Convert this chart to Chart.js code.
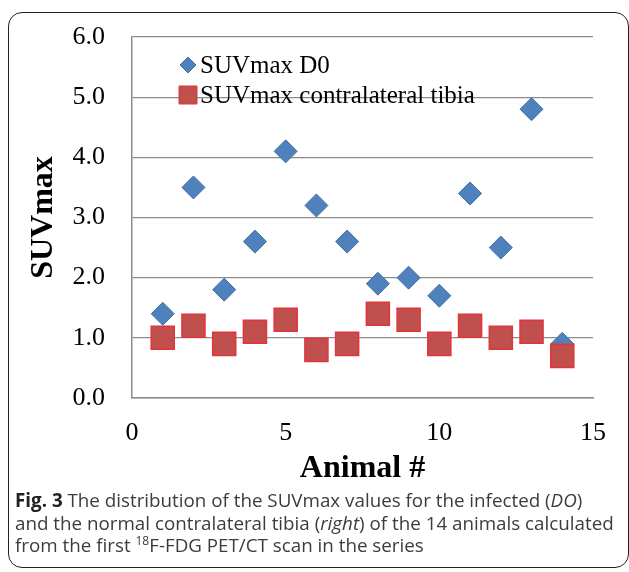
<!DOCTYPE html>
<html>
<head>
<meta charset="utf-8">
<script src="https://cdn.jsdelivr.net/npm/chart.js@4.4.1/dist/chart.umd.min.js"></script>
<style>
  html, body { margin: 0; padding: 0; background: #fff; }
  body { width: 629px; height: 572px; position: relative; overflow: hidden; }
  #frame {
    position: absolute; left: 8px; top: 12px; width: 621px; height: 556px;
    border: 1.5px solid #222; border-radius: 14px; box-sizing: border-box;
  }
  #chartBox { position: absolute; left: 0; top: 0; width: 629px; height: 490px; }
  #caption {
    position: absolute; left: 15px; top: 489px; margin: 0;
    font-family: "Open Sans", sans-serif; font-size: 18.8px; line-height: 22.5px;
    color: #3c3c3c; white-space: nowrap;
  }
  #caption b { color: #222; }
  #caption sup { font-size: 12px; line-height: 0; }
</style>
</head>
<body>
<div id="frame"></div>
<div id="chartBox"><canvas id="currentChart"></canvas></div>
<p id="caption"><b>Fig. 3</b> The distribution of the SUVmax values for the infected (<i>DO</i>)<br>and the normal contralateral tibia (<i>right</i>) of the 14 animals calculated<br>from the first <sup>18</sup>F-FDG PET/CT scan in the series</p>

<script>
const animals = [1, 2, 3, 4, 5, 6, 7, 8, 9, 10, 11, 12, 13, 14];
const suvD0 = [1.4, 3.5, 1.8, 2.6, 4.1, 3.2, 2.6, 1.9, 2.0, 1.7, 3.4, 2.5, 4.8, 0.9];
const suvTibia = [1.0, 1.2, 0.9, 1.1, 1.3, 0.8, 0.9, 1.4, 1.3, 0.9, 1.2, 1.0, 1.1, 0.7];
const seriesLabels = ['SUVmax D0', 'SUVmax contralateral tibia'];
const yTicks = [0, 1, 2, 3, 4, 5, 6];
const xTicks = [0, 5, 10, 15];

const serif = '"Liberation Serif", "DejaVu Serif", serif';

document.addEventListener('DOMContentLoaded', () => {
    initChart();
});

function initChart() {
    const chart = document.getElementById('currentChart')?.getContext('2d');
    if (!chart) return;

    new Chart(chart, {
        type: 'scatter',
        data: getChartData(),
        options: getChartOptions(),
        plugins: [insideLegend],
    });
}

function toPoints(values) {
    return animals.map((a, i) => ({ x: a, y: values[i] }));
}

function getChartData() {
    return {
        datasets: [{
            label: seriesLabels[0],
            data: toPoints(suvD0),
            pointStyle: 'rectRot',
            pointRadius: 11.5,
            pointHoverRadius: 11.5,
            backgroundColor: '#4F81BD',
            borderColor: '#41719F',
            borderWidth: 1,
            order: 1
        }, {
            label: seriesLabels[1],
            data: toPoints(suvTibia),
            pointStyle: 'rect',
            pointRadius: 16.3,
            pointHoverRadius: 16.3,
            backgroundColor: '#C0504D',
            borderColor: '#E3343E',
            borderWidth: 1.5,
            order: 0
        }]
    };
}

// legend drawn inside the plot area, stacked like the original
const insideLegend = {
    id: 'insideLegend',
    beforeDatasetsDraw(chart) {
        const { ctx, chartArea } = chart;
        const x0 = chartArea.left + 56;
        const y0 = chartArea.top + 28;
        ctx.save();
        ctx.font = '25px ' + serif;
        ctx.textBaseline = 'middle';
        chart.data.datasets.forEach((ds, i) => {
            const y = y0 + i * 30;
            ctx.fillStyle = ds.backgroundColor;
            ctx.strokeStyle = ds.borderColor;
            ctx.lineWidth = 1;
            ctx.beginPath();
            if (ds.pointStyle === 'rectRot') {
                ctx.moveTo(x0 - 8, y);
                ctx.lineTo(x0, y - 8);
                ctx.lineTo(x0 + 8, y);
                ctx.lineTo(x0, y + 8);
                ctx.closePath();
            } else {
                ctx.rect(x0 - 9, y - 9, 18, 18);
            }
            ctx.fill();
            ctx.stroke();
            ctx.fillStyle = '#000';
            ctx.fillText(ds.label, x0 + 12, y + 1);
        });
        ctx.restore();
    }
};

function getChartOptions() {
    return {
        responsive: true,
        maintainAspectRatio: false,
        animation: false,
        layout: { padding: { top: 37, right: 36, left: 0, bottom: 0 } },
        plugins: {
            legend: { display: false },
            tooltip: { enabled: false }
        },
        scales: {
            x: {
                type: 'linear',
                min: 0,
                max: 15,
                afterFit: s => { s.height = 92; },
                afterBuildTicks: s => { s.ticks = xTicks.map(v => ({ value: v })); },
                grid: { display: false, drawTicks: false },
                border: { display: true, color: '#8c8c8c', width: 1.5 },
                ticks: {
                    padding: 20,
                    color: '#000',
                    font: { family: serif, size: 26 }
                },
                title: {
                    display: true,
                    text: 'Animal #',
                    color: '#000',
                    padding: { top: 0, bottom: 2 },
                    font: { family: serif, size: 32, weight: 'bold' }
                }
            },
            y: {
                min: 0,
                max: 6,
                afterFit: s => { s.width = 132; s.paddingTop = 0; s.paddingBottom = 0; },
                afterBuildTicks: s => { s.ticks = yTicks.map(v => ({ value: v })); },
                grid: { color: '#8c8c8c', lineWidth: 1.2, drawTicks: false },
                border: { display: true, color: '#8c8c8c', width: 1.5 },
                ticks: {
                    padding: 27,
                    color: '#000',
                    font: { family: serif, size: 26 },
                    callback: v => v.toFixed(1)
                },
                title: {
                    display: true,
                    text: 'SUVmax',
                    color: '#000',
                    padding: { top: 25, bottom: 0 },
                    font: { family: serif, size: 32, weight: 'bold' }
                }
            }
        }
    };
}
</script>
</body>
</html>
